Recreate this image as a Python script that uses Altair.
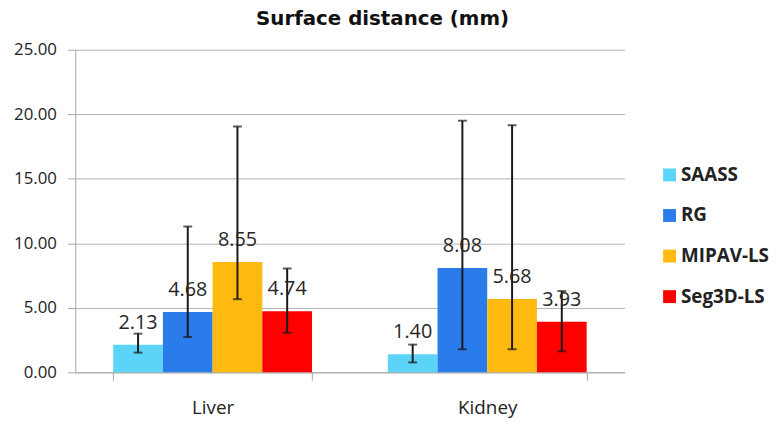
import altair as alt
import pandas as pd

categories = ["Liver", "Kidney"]
series = ["SAASS", "RG", "MIPAV-LS", "Seg3D-LS"]
colors = ["#5BD4F8", "#2B7CEB", "#FFB90F", "#FF0000"]

liver_mean = [2.13, 4.68, 8.55, 4.74]
kidney_mean = [1.40, 8.08, 5.68, 3.93]
liver_hi = [3.00, 11.30, 19.05, 8.05]
liver_lo = [1.53, 2.74, 5.67, 3.07]
kidney_hi = [2.15, 19.50, 19.15, 6.30]
kidney_lo = [0.77, 1.79, 1.79, 1.63]

y_ticks = [0, 5, 10, 15, 20, 25]

rows = []
for organ, means, his, los in [("Liver", liver_mean, liver_hi, liver_lo),
                               ("Kidney", kidney_mean, kidney_hi, kidney_lo)]:
    for s, m, h, l in zip(series, means, his, los):
        rows.append({"organ": organ, "method": s, "mean": m, "hi": h, "lo": l,
                     "label": f"{m:.2f}"})
df = pd.DataFrame(rows)

FONT = "Open Sans"

x_enc = alt.X("organ:N", sort=categories,
              scale=alt.Scale(paddingInner=0.276, paddingOuter=0.138),
              axis=alt.Axis(title=None, labelAngle=0, tickBand="extent",
                            labelFont=FONT, labelFontSize=19, labelColor="#222222",
                            labelPadding=19, tickSize=8, tickColor="#A6A6A6",
                            domainColor="#A6A6A6", grid=False))
xo_enc = alt.XOffset("method:N", sort=series,
                     scale=alt.Scale(paddingInner=0, paddingOuter=0))
y_scale = alt.Scale(domain=[0, 25], nice=False)

base = alt.Chart(df)

bars = base.mark_bar().encode(
    x=x_enc,
    xOffset=xo_enc,
    y=alt.Y("mean:Q", scale=y_scale,
            axis=alt.Axis(title=None, values=y_ticks, format=".2f",
                          labelFont=FONT, labelFontSize=17, labelColor="#222222",
                          labelPadding=11, tickSize=8, tickColor="#A6A6A6",
                          domainColor="#A6A6A6", gridColor="#B4B4B4")),
    color=alt.Color("method:N", sort=series,
                    scale=alt.Scale(domain=series, range=colors),
                    legend=alt.Legend(title=None, orient="none", legendX=591, legendY=117,
                                      symbolType="square", symbolSize=170,
                                      symbolStrokeWidth=0,
                                      labelFont=FONT, labelFontSize=19,
                                      labelFontWeight="bold", labelColor="#222222",
                                      rowPadding=21, labelOffset=2)),
)

rules = base.mark_rule(color="#1A1A1A", strokeWidth=2).encode(
    x=alt.X("organ:N", sort=categories), xOffset=xo_enc,
    y=alt.Y("lo:Q", scale=y_scale), y2="hi:Q",
)
caps_hi = base.mark_tick(color="#1A1A1A", thickness=2, size=9).encode(
    x=alt.X("organ:N", sort=categories), xOffset=xo_enc,
    y=alt.Y("hi:Q", scale=y_scale),
)
caps_lo = base.mark_tick(color="#1A1A1A", thickness=2, size=9).encode(
    x=alt.X("organ:N", sort=categories), xOffset=xo_enc,
    y=alt.Y("lo:Q", scale=y_scale),
)
labels = base.mark_text(font=FONT, fontSize=20, color="#262626",
                        baseline="middle", dy=-22).encode(
    x=alt.X("organ:N", sort=categories), xOffset=xo_enc,
    y=alt.Y("mean:Q", scale=y_scale),
    text="label:N",
)

chart = alt.layer(bars, rules, caps_hi, caps_lo, labels).properties(
    width=555, height=326,
    autosize=alt.AutoSizeParams(type="none"),
    padding={"left": 68, "top": 40, "right": 149, "bottom": 48},
    title=alt.TitleParams("Surface distance (mm)", font="DejaVu Sans", fontSize=20,
                          fontWeight="bold", color="#111111", anchor="middle",
                          dx=33, offset=12),
).configure_view(stroke=None).configure_axis(gridWidth=1)

chart.save("out.html", embed_options={"renderer": "svg", "actions": False})
